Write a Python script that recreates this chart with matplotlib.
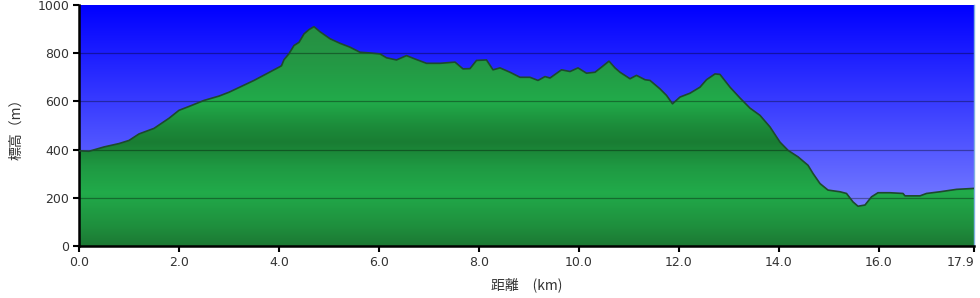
import numpy as np
import matplotlib.pyplot as plt
from matplotlib.colors import LinearSegmentedColormap
from matplotlib.patches import Polygon

# elevation profile (km, m)
dist_km = [0.0, 0.2, 0.5, 0.8, 1.0, 1.2, 1.5, 1.8, 2.0, 2.2, 2.5, 2.8, 3.0, 3.5,
           4.0, 4.05, 4.1, 4.2, 4.3, 4.4, 4.5, 4.6, 4.7, 4.82, 5.02, 5.22, 5.42,
           5.62, 5.82, 6.02, 6.15, 6.35, 6.55, 6.72, 6.95, 7.22, 7.52, 7.68, 7.82,
           7.95, 8.15, 8.28, 8.42, 8.62, 8.82, 9.02, 9.18, 9.32, 9.42, 9.65, 9.82,
           9.98, 10.15, 10.32, 10.45, 10.6, 10.72, 10.82, 11.02, 11.15, 11.32,
           11.42, 11.62, 11.75, 11.87, 12.02, 12.22, 12.42, 12.55, 12.72, 12.82,
           13.02, 13.22, 13.42, 13.62, 13.82, 14.02, 14.18, 14.38, 14.58, 14.68,
           14.82, 14.98, 15.22, 15.35, 15.48, 15.58, 15.72, 15.85, 15.98, 16.22,
           16.48, 16.52, 16.82, 16.95, 17.22, 17.55, 17.9]
elev_m = [395, 393, 411, 425, 438, 465, 488, 530, 563, 579, 604, 622, 638, 687,
          742, 748, 773, 798, 832, 845, 880, 898, 910, 889, 860, 841, 825,
          804, 801, 797, 781, 772, 790, 776, 758, 758, 763, 735, 736,
          770, 772, 731, 739, 721, 700, 700, 687, 703, 697, 731, 724,
          739, 717, 721, 742, 767, 739, 721, 694, 708, 690,
          687, 652, 625, 590, 618, 634, 659, 690, 714, 712,
          659, 614, 572, 542, 494, 431, 397, 370, 335, 301,
          259, 232, 225, 218, 183, 165, 170, 204, 221, 221,
          218, 208, 208, 218, 225, 235, 239]

x_ticks = [0, 2, 4, 6, 8, 10, 12, 14, 16, 17.9]
y_ticks = [0, 200, 400, 600, 800, 1000]

fig = plt.figure(figsize=(9.8, 2.98), dpi=100)
ax = fig.add_axes([79 / 980, 1 - 246 / 298, 895 / 980, 241 / 298])
ax.set_xlim(0, 17.9)
ax.set_ylim(0, 1000)

# sky gradient: deep blue at top, pale blue at bottom
sky = LinearSegmentedColormap.from_list('sky', [(0.55, 0.58, 1.0), (0.0, 0.0, 1.0)])
grad = np.linspace(0, 1, 256).reshape(-1, 1)
ax.imshow(grad, cmap=sky, aspect='auto', origin='lower',
          extent=[0, 17.9, 0, 1000], zorder=0)

# green fill with banded shading
green = LinearSegmentedColormap.from_list('grn', [
    (0.00, (0.11, 0.47, 0.20)),
    (0.08, (0.12, 0.56, 0.24)),
    (0.22, (0.13, 0.67, 0.29)),
    (0.33, (0.12, 0.60, 0.26)),
    (0.43, (0.10, 0.49, 0.20)),
    (0.50, (0.11, 0.55, 0.23)),
    (0.60, (0.13, 0.67, 0.29)),
    (0.75, (0.14, 0.60, 0.27)),
    (1.00, (0.16, 0.54, 0.26)),
])
img = ax.imshow(grad, cmap=green, aspect='auto', origin='lower',
                extent=[0, 17.9, 0, 1000], zorder=1)
verts = [(0, 0)] + list(zip(dist_km, elev_m)) + [(dist_km[-1], 0)]
clip = Polygon(verts, closed=True, transform=ax.transData)
img.set_clip_path(clip)
ax.plot(dist_km, elev_m, color='#1d4a2c', lw=1.2, zorder=3)

for v in y_ticks[1:-1]:
    ax.axhline(v, color='black', alpha=0.35, lw=0.9, zorder=2)

ax.set_xticks(x_ticks)
ax.set_xticklabels([f'{t:.1f}' for t in x_ticks])
ax.get_xticklabels()[-1].set_horizontalalignment('right')
ax.set_yticks(y_ticks)
ax.set_yticklabels([str(t) for t in y_ticks])
ax.tick_params(direction='out', length=4, width=1.5, color='black',
               labelsize=9, labelcolor='#333333', pad=3)

ax.spines['top'].set_visible(False)
ax.spines['right'].set_color('#7fb0e0')
ax.spines['right'].set_linewidth(1)
ax.spines['left'].set_linewidth(1.8)
ax.spines['bottom'].set_linewidth(1.8)

ax.set_xlabel('距離　(km)', family=['Noto Sans CJK JP', 'DejaVu Sans'],
              fontsize=10, color='#333333', labelpad=6)
ax.set_ylabel('標高（m）', family=['Noto Sans CJK JP', 'DejaVu Sans'],
              fontsize=10, color='#333333', labelpad=10)

fig.savefig('out.png', dpi=100)
